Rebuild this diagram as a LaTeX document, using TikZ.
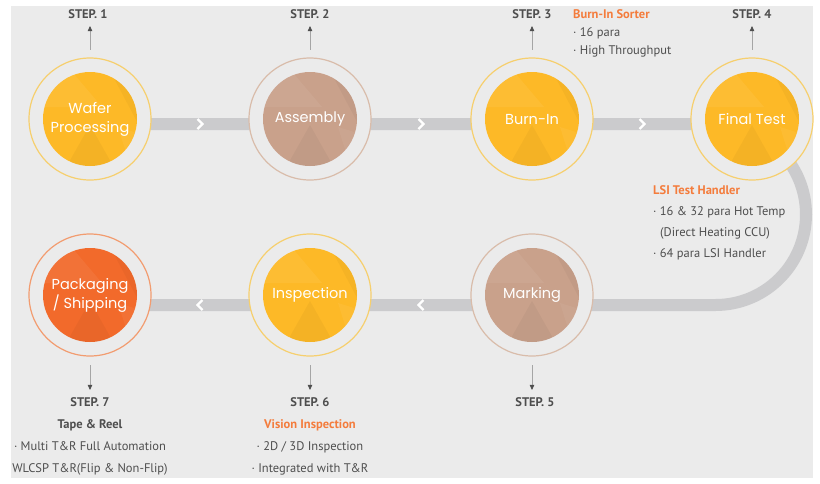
\documentclass[tikz,border=0pt]{standalone}
\usepackage{fontspec}
\setmainfont{PT Sans}
\newfontfamily\circfont{Poppins}
\usetikzlibrary{calc,arrows.meta}
\definecolor{bg-gray}{HTML}{EBEBEB}
\definecolor{bar-gray}{HTML}{CBCBCD}
\definecolor{sun}{HTML}{FDB927}
\definecolor{sun-ring}{HTML}{F6CF6E}
\definecolor{clay}{HTML}{C9A18B}
\definecolor{clay-ring}{HTML}{D9BCAA}
\definecolor{flame}{HTML}{F26A2B}
\definecolor{flame-ring}{HTML}{F29C70}
\definecolor{note-orange}{HTML}{F47C3C}
\definecolor{text-gray}{HTML}{4E4E4E}
\definecolor{tick-gray}{HTML}{A5A5A5}
\pgfdeclarelayer{back}
\pgfsetlayers{back,main}

\tikzset{
	stage/.style={circle, minimum size=122pt, inner sep=0pt, text=white, align=center,
		font={\circfont\fontsize{14.5}{19}\selectfont}},
	bar/.style={bar-gray, line width=12pt, rounded corners=90.5pt},
	chev/.style={white, line width=2.2pt},
	steplabel/.style={text=text-gray, font=\bfseries\fontsize{12.5}{15}\selectfont},
	note/.style={text=text-gray, font=\fontsize{12.5}{18}\selectfont, inner sep=0pt},
	tick/.style={tick-gray, line width=.6pt, -{Triangle[length=5pt, width=4.5pt, color=text-gray]}}
}

\begin{document}
\begin{tikzpicture}[x=1pt, y=-1pt]

	\useasboundingbox (0,0) rectangle (820,483);

	\node[stage] (wafer) at (90,119) {Wafer\\Processing};
	\node[stage] (assembly) at (310,119) {Assembly};
	\node[stage] (burnin) at (532,119) {Burn-In};
	\node[stage] (finaltest) at (752,119) {Final Test};
	\node[stage] (marking) at (532,295) {Marking};
	\node[stage] (inspection) at (310,295) {Inspection};
	\node[stage] (packaging) at (90,295) {Packaging\\/ Shipping};

	\coordinate (turntop) at (806,124);
	\coordinate (turnbot) at (806,305);

	\begin{pgfonlayer}{back}
		\fill[white] (0,0) rectangle (820,483);
		\fill[bg-gray] (11,6) rectangle (813,478);
		\draw[bar] ([yshift=-5pt]wafer.center) -- (turntop) -- (turnbot) -- ([yshift=-10pt]packaging.center);
		\foreach \n/\c/\r in {wafer/sun/sun-ring, assembly/clay/clay-ring, burnin/sun/sun-ring, finaltest/sun/sun-ring,
				marking/clay/clay-ring, inspection/sun/sun-ring, packaging/flame/flame-ring}{
			\begin{scope}[shift={(\n.center)}]
				\filldraw[fill=bg-gray, draw=\r, line width=1.2pt] (0,0) circle (61pt);
				\fill[\c] (0,0) circle (47pt);
				\clip (0,0) circle (47pt);
				\fill[white, opacity=.06] (-55,-12) -- (-22,-52) -- (12,-12) -- cycle;
				\fill[black, opacity=.035] (-26,52) -- (0,6) -- (26,52) -- cycle;
				\fill[black, opacity=.03] (18,-52) -- (56,-52) -- (52,12) -- cycle;
				\fill[white, opacity=.05] (28,8) -- (60,18) -- (42,52) -- cycle;
			\end{scope}
		}
	\end{pgfonlayer}

	\foreach \a/\b in {wafer/assembly, assembly/burnin, burnin/finaltest}
		\draw[chev] ($(\a.center)!.5!(\b.center)$) ++(-2.5,0) -- ++(5,5) -- ++(-5,5);
	\foreach \a/\b in {packaging/inspection, inspection/marking}
		\draw[chev] ($(\a.center)!.5!(\b.center)$) ++(2.5,5) -- ++(-5,5) -- ++(5,5);

	% steps above
	\node[steplabel] (s1) at (88,14) {STEP. 1};
	\node[steplabel] (s2) at (310,14) {STEP. 2};
	\node[steplabel] (s3) at (532,14) {STEP. 3};
	\node[steplabel] (s4) at (752,14) {STEP. 4};
	\foreach \n/\s in {wafer/s1, assembly/s2, burnin/s3, finaltest/s4}
		\draw[tick] ([yshift=8pt]\n.north) -- (\n.north |- \s.south) [shorten >=4pt];

	% steps below
	\node[steplabel] (s5) at (535,402) {STEP. 5};
	\node[steplabel] (s6) at (310,402) {STEP. 6};
	\node[steplabel] (s7) at (90,402) {STEP. 7};
	\foreach \n/\s in {marking/s5, inspection/s6, packaging/s7}
		\draw[tick] ([yshift=-9pt]\n.south) -- (\n.south |- \s.north) [shorten >=4pt];

	\node[note, anchor=north west, align=left] (sorter) at (573,9) {{\color{note-orange}\bfseries Burn-In Sorter}\\· 16 para\\· High Throughput};
	\node[note, anchor=north west, align=left, font=\fontsize{12.5}{21}\selectfont] (lsi) at (653,185) {{\color{note-orange}\bfseries LSI Test Handler}\\· 16 \& 32 para Hot Temp\\\hspace{7pt}(Direct Heating CCU)\\· 64 para LSI Handler};
	\node[note, anchor=north, align=center, font=\fontsize{12.5}{22}\selectfont] (reel) at (90,419) {{\bfseries Tape \& Reel}\\· Multi T\&R Full Automation\\WLCSP T\&R(Flip \& Non-Flip)};
	\node[note, anchor=north, align=center, font=\fontsize{12.5}{22}\selectfont] (vision) at (310,419) {{\color{note-orange}\bfseries Vision Inspection}\\· 2D / 3D Inspection\\· Integrated with T\&R};

\end{tikzpicture}
\end{document}
